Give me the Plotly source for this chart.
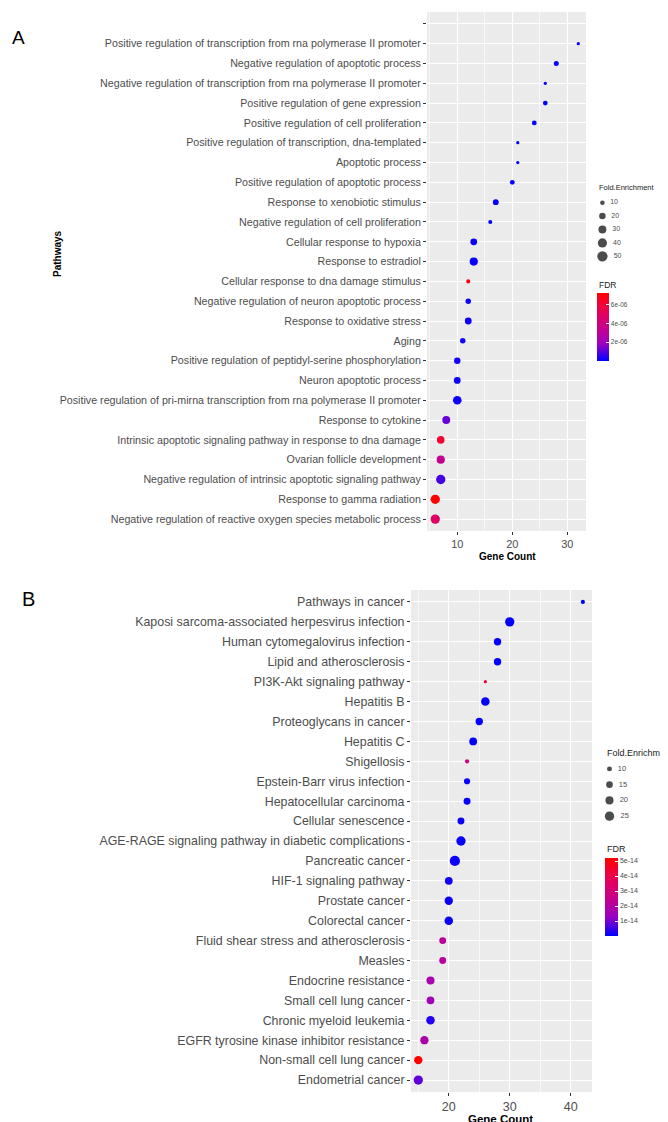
import numpy as np
import plotly.graph_objects as go

# ---------------- Panel A data (top -> bottom) ----------------
A_pathways = [
    "Positive regulation of transcription from rna polymerase II promoter",
    "Negative regulation of apoptotic process",
    "Negative regulation of transcription from rna polymerase II promoter",
    "Positive regulation of gene expression",
    "Positive regulation of cell proliferation",
    "Positive regulation of transcription, dna-templated",
    "Apoptotic process",
    "Positive regulation of apoptotic process",
    "Response to xenobiotic stimulus",
    "Negative regulation of cell proliferation",
    "Cellular response to hypoxia",
    "Response to estradiol",
    "Cellular response to dna damage stimulus",
    "Negative regulation of neuron apoptotic process",
    "Response to oxidative stress",
    "Aging",
    "Positive regulation of peptidyl-serine phosphorylation",
    "Neuron apoptotic process",
    "Positive regulation of pri-mirna transcription from rna polymerase II promoter",
    "Response to cytokine",
    "Intrinsic apoptotic signaling pathway in response to dna damage",
    "Ovarian follicle development",
    "Negative regulation of intrinsic apoptotic signaling pathway",
    "Response to gamma radiation",
    "Negative regulation of reactive oxygen species metabolic process",
]
A_gene_count = [32, 28, 26, 26, 24, 21, 21, 20, 17, 16, 13, 13, 12, 12, 12, 11, 10, 10, 10, 8, 7, 7, 7, 6, 6]
A_fold_enrichment = [5, 12, 5, 11, 11, 5, 5, 11, 16, 8, 22, 32, 8, 14, 22, 14, 20, 22, 35, 30, 27, 32, 41, 41, 41]
A_fdr = [1e-8, 5e-8, 2e-8, 3e-8, 2e-8, 1e-8, 1e-8, 4e-8, 5e-8, 3e-8, 1e-7, 1e-7, 6.8e-6, 1.2e-7, 1.5e-7,
         1.5e-7, 2e-7, 2e-7, 1.5e-7, 1.2e-6, 6.2e-6, 3.4e-6, 8e-7, 7.2e-6, 4.8e-6]
A_extra_top_label = [""]
A_size_breaks = [10, 20, 30, 40, 50]
A_fdr_ticks = [2e-6, 4e-6, 6e-6]
A_fdr_ticktext = ["2e-06", "4e-06", "6e-06"]
A_x_ticks = [10, 20, 30]

# ---------------- Panel B data (top -> bottom) ----------------
B_pathways = [
    "Pathways in cancer",
    "Kaposi sarcoma-associated herpesvirus infection",
    "Human cytomegalovirus infection",
    "Lipid and atherosclerosis",
    "PI3K-Akt signaling pathway",
    "Hepatitis B",
    "Proteoglycans in cancer",
    "Hepatitis C",
    "Shigellosis",
    "Epstein-Barr virus infection",
    "Hepatocellular carcinoma",
    "Cellular senescence",
    "AGE-RAGE signaling pathway in diabetic complications",
    "Pancreatic cancer",
    "HIF-1 signaling pathway",
    "Prostate cancer",
    "Colorectal cancer",
    "Fluid shear stress and atherosclerosis",
    "Measles",
    "Endocrine resistance",
    "Small cell lung cancer",
    "Chronic myeloid leukemia",
    "EGFR tyrosine kinase inhibitor resistance",
    "Non-small cell lung cancer",
    "Endometrial cancer",
]
B_gene_count = [42, 30, 28, 28, 26, 26, 25, 24, 23, 23, 23, 22, 22, 21, 20, 20, 20, 19, 19, 17, 17, 17, 16, 15, 15]
B_fold_enrichment = [8, 25, 17.5, 17.5, 6, 22, 17.5, 19, 8, 13.5, 16, 16, 25, 29, 19, 21, 22, 16, 16, 20, 19, 22, 21, 21, 25]
B_fdr = [1e-17, 5e-17, 2e-16, 2e-16, 4.2e-14, 1e-16, 3e-16, 3e-16, 2.8e-14, 6e-16, 6e-16, 8e-16, 5e-16, 1e-15,
         1.2e-15, 1e-15, 8e-16, 2.2e-14, 2.1e-14, 1.7e-14, 1.5e-14, 3e-15, 1.8e-14, 5.2e-14, 8e-15]
B_size_breaks = [10, 15, 20, 25]
B_fdr_ticks = [1e-14, 2e-14, 3e-14, 4e-14, 5e-14]
B_fdr_ticktext = ["1e-14", "2e-14", "3e-14", "4e-14", "5e-14"]
B_x_ticks = [20, 30, 40]

# ---------------- styling helpers ----------------
W, H = 668, 1122
OFF = 8  # page body margin offset
FONT = "Liberation Sans, Arial, sans-serif"
TICK_COL = "#4D4D4D"
PANEL_BG = "#EBEBEB"
# Lab-interpolated blue -> red (like ggplot scale_colour_gradient)
FDR_SCALE = [[0.0, "#0000FF"], [0.25, "#9A00C2"], [0.5, "#C90088"], [0.75, "#E90051"], [1.0, "#FF0000"]]


def px_x(p):
    return (p - OFF) / W


def px_y(p):
    return 1 - (p - OFF) / H


def size_A(v):
    return 1.45 * np.sqrt(np.asarray(v, dtype=float))


def size_B(v):
    return -2.5 + 2.36 * np.sqrt(np.asarray(v, dtype=float))


nA = len(A_pathways)
nB = len(B_pathways)
A_y = [nA - 1 - i for i in range(nA)]
B_y = [nB - 1 - i for i in range(nB)]
A_tickvals = A_y + [nA]
A_ticktext = A_pathways + A_extra_top_label

fig = go.Figure()

fig.add_trace(go.Scatter(
    x=A_gene_count, y=A_y, mode="markers", showlegend=False,
    marker=dict(size=size_A(A_fold_enrichment), color=A_fdr, coloraxis="coloraxis", line=dict(width=0), opacity=1),
    xaxis="x", yaxis="y",
))
fig.add_trace(go.Scatter(
    x=B_gene_count, y=B_y, mode="markers", showlegend=False,
    marker=dict(size=size_B(B_fold_enrichment), color=B_fdr, coloraxis="coloraxis2", line=dict(width=0), opacity=1),
    xaxis="x2", yaxis="y2",
))

# size legends drawn on helper axes
fig.add_trace(go.Scatter(
    x=[1] * len(A_size_breaks), y=list(range(len(A_size_breaks))), mode="markers+text",
    text=["  " + str(b) for b in A_size_breaks], textposition="middle right",
    textfont=dict(size=7, color=TICK_COL, family=FONT),
    marker=dict(size=size_A(A_size_breaks), color="black", line=dict(width=0)),
    showlegend=False, xaxis="x3", yaxis="y3", cliponaxis=False,
))
fig.add_trace(go.Scatter(
    x=[1] * len(B_size_breaks), y=list(range(len(B_size_breaks))), mode="markers+text",
    text=["  " + str(b) for b in B_size_breaks], textposition="middle right",
    textfont=dict(size=7.5, color=TICK_COL, family=FONT),
    marker=dict(size=size_B(B_size_breaks), color="black", line=dict(width=0)),
    showlegend=False, xaxis="x4", yaxis="y4", cliponaxis=False,
))

grid = dict(showgrid=True, gridcolor="white", gridwidth=1.1, zeroline=False, showline=False,
            ticks="outside", ticklen=3, tickcolor="#333333", tickwidth=1)

hidden = dict(visible=False, showgrid=False, zeroline=False)

fig.update_layout(
    width=W, height=H, margin=dict(l=0, r=0, t=0, b=0),
    paper_bgcolor="white", plot_bgcolor="rgba(0,0,0,0)",
    font=dict(family=FONT, color=TICK_COL),
    xaxis=dict(domain=[px_x(427), px_x(586)], range=[4.5, 33.4], anchor="y",
               tickvals=A_x_ticks, tickfont=dict(size=11, color=TICK_COL),
               minor=dict(dtick=10, tick0=5, showgrid=True, gridcolor="#F7F7F7", gridwidth=0.6, ticks=""),
               **grid),
    yaxis=dict(domain=[px_y(531), px_y(12)], range=[-0.6, nA + 0.6], anchor="x",
               tickvals=A_tickvals, ticktext=A_ticktext, tickfont=dict(size=10.7, color=TICK_COL),
               **grid),
    xaxis2=dict(domain=[px_x(411), px_x(592)], range=[13.8, 43.5], anchor="y2",
                tickvals=B_x_ticks, tickfont=dict(size=12.5, color=TICK_COL),
                minor=dict(dtick=10, tick0=15, showgrid=True, gridcolor="#F7F7F7", gridwidth=0.6, ticks=""),
                **grid),
    yaxis2=dict(domain=[px_y(1092), px_y(590)], range=[-0.6, nB - 0.4], anchor="x2",
                tickvals=B_y, ticktext=B_pathways, tickfont=dict(size=12.4, color=TICK_COL),
                **grid),
    xaxis3=dict(domain=[px_x(596), px_x(660)], range=[0, 10], anchor="y3", **hidden),
    yaxis3=dict(domain=[px_y(263), px_y(196)], range=[len(A_size_breaks) - 0.5, -0.5], anchor="x3", **hidden),
    xaxis4=dict(domain=[px_x(603), px_x(668)], range=[0, 10], anchor="y4", **hidden),
    yaxis4=dict(domain=[px_y(824), px_y(761)], range=[len(B_size_breaks) - 0.5, -0.5], anchor="x4", **hidden),
    coloraxis=dict(
        colorscale=FDR_SCALE, cmin=min(A_fdr), cmax=max(A_fdr),
        colorbar=dict(x=px_x(597), xanchor="left", y=px_y(293), yanchor="top",
                      len=68, lenmode="pixels", thickness=12, ypad=0, xpad=0,
                      outlinewidth=0, tickvals=A_fdr_ticks, ticktext=A_fdr_ticktext,
                      ticks="inside", ticklen=3, tickcolor="white",
                      tickfont=dict(size=6.5, color=TICK_COL, family=FONT)),
    ),
    coloraxis2=dict(
        colorscale=FDR_SCALE, cmin=min(B_fdr), cmax=max(B_fdr),
        colorbar=dict(x=px_x(605), xanchor="left", y=px_y(858), yanchor="top",
                      len=78, lenmode="pixels", thickness=13, ypad=0, xpad=0,
                      outlinewidth=0, tickvals=B_fdr_ticks, ticktext=B_fdr_ticktext,
                      ticks="inside", ticklen=3, tickcolor="white",
                      tickfont=dict(size=7, color=TICK_COL, family=FONT)),
    ),
    showlegend=False,
    shapes=[
        dict(type="rect", xref="x domain", yref="y domain", x0=0, x1=1, y0=0, y1=1,
             fillcolor=PANEL_BG, line=dict(width=0), layer="below"),
        dict(type="rect", xref="x2 domain", yref="y2 domain", x0=0, x1=1, y0=0, y1=1,
             fillcolor=PANEL_BG, line=dict(width=0), layer="below"),
    ],
)

ann = [
    dict(text="A", x=px_x(18), y=px_y(38), font=dict(size=19, color="black")),
    dict(text="B", x=px_x(28), y=px_y(599), font=dict(size=20, color="black")),
    dict(text="<b>Gene Count</b>", x=px_x(507), y=px_y(556), font=dict(size=10, color="black")),
    dict(text="<b>Gene Count</b>", x=px_x(500), y=px_y(1119), font=dict(size=11.5, color="black")),
    dict(text="<b>Pathways</b>", x=px_x(57), y=px_y(254), textangle=-90, font=dict(size=10, color="black")),
    dict(text="Fold.Enrichment", x=px_x(597), y=px_y(188), xanchor="left", font=dict(size=7.5, color="#222222")),
    dict(text="FDR", x=px_x(597), y=px_y(285), xanchor="left", font=dict(size=8.5, color="#222222")),
    dict(text="Fold.Enrichment", x=px_x(605), y=px_y(753), xanchor="left", font=dict(size=9, color="#222222")),
    dict(text="FDR", x=px_x(605), y=px_y(849), xanchor="left", font=dict(size=9, color="#222222")),
]
for a in ann:
    a.update(xref="paper", yref="paper", showarrow=False, font=dict(family=FONT, **a["font"]))
    a.setdefault("xanchor", "center")
    a.setdefault("yanchor", "middle")
fig.update_layout(annotations=ann)

fig.write_html("out.html")
